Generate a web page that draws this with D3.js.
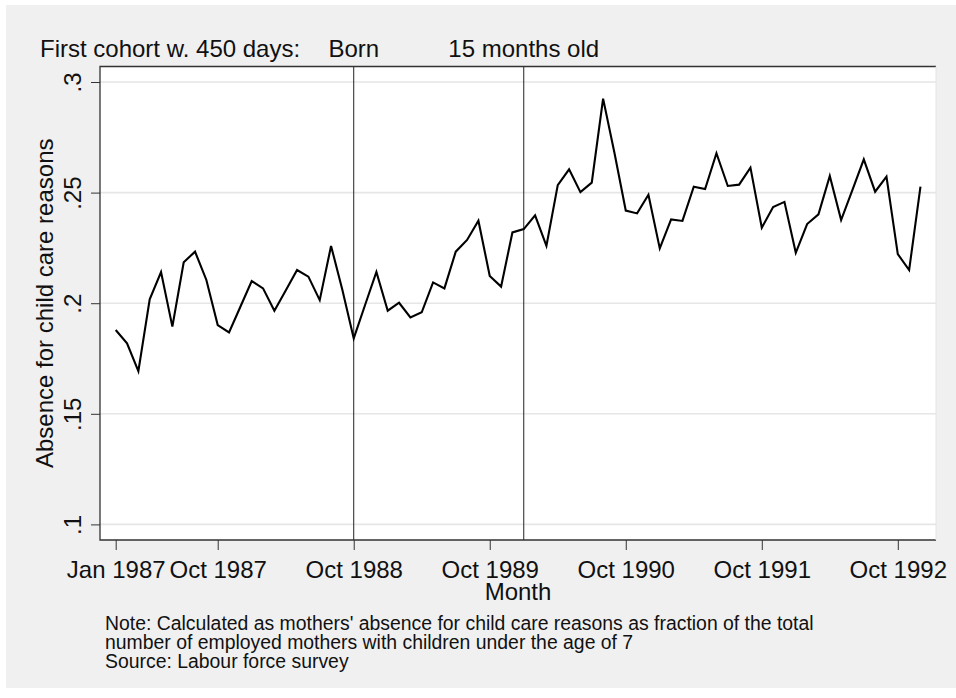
<!DOCTYPE html>
<head>
<meta charset="utf-8">
<style>
body { margin: 0; background: #fff; }
text { font-family: "Liberation Sans", Arial, Helvetica, sans-serif; fill: #111; }
</style>
</head>
<body>
<div id="chart"></div>
<script src="https://d3js.org/d3.v7.min.js"></script>
<script>
// monthly share, Jan 1987 .. Dec 1992 (month index 0 = Jan 1987)
var absence = [0.1879, 0.1819, 0.1693, 0.2018, 0.2141, 0.1894, 0.2185, 0.2233, 0.2105, 0.1901, 0.1868, 0.1984,
               0.2100, 0.2067, 0.1966, 0.2057, 0.2150, 0.2120, 0.2014, 0.2259, 0.2060, 0.1841, 0.1992, 0.2141,
               0.1966, 0.2002, 0.1936, 0.1959, 0.2094, 0.2067, 0.2233, 0.2286, 0.2373, 0.2123, 0.2075, 0.2320,
               0.2335, 0.2397, 0.2259, 0.2534, 0.2605, 0.2502, 0.2545, 0.2925, 0.2680, 0.2419, 0.2406, 0.2490,
               0.2248, 0.2379, 0.2372, 0.2527, 0.2516, 0.2678, 0.2530, 0.2536, 0.2613, 0.2341, 0.2435, 0.2458,
               0.2228, 0.2358, 0.2402, 0.2575, 0.2376, 0.2512, 0.2650, 0.2504, 0.2572, 0.2222, 0.2150, 0.2527];
var xTickMonths = [0, 9, 21, 33, 45, 57, 69];
var xTickLabels = ["Jan 1987", "Oct 1987", "Oct 1988", "Oct 1989", "Oct 1990", "Oct 1991", "Oct 1992"];
var yTicks = [0.1, 0.15, 0.2, 0.25, 0.3];
var yTickLabels = [".1", ".15", ".2", ".25", ".3"];
var refMonths = [21, 36];
var refLabels = ["Born", "15 months old"];
var notes = ["Note: Calculated as mothers' absence for child care reasons as fraction of the total",
             "number of employed mothers with children under the age of 7",
             "Source: Labour force survey"];

var W = 956, H = 698;
var margin = {top: 66.5, right: 20, bottom: 158, left: 100},
    width = W - margin.left - margin.right,
    height = H - margin.top - margin.bottom;

var svg = d3.select("#chart").append("svg")
    .attr("width", W)
    .attr("height", H);

// grey graph region
svg.append("rect")
    .attr("x", 6).attr("y", 5)
    .attr("width", W - 6).attr("height", 683)
    .attr("fill", "#f0f0f0");

var g = svg.append("g")
    .attr("transform", "translate(" + margin.left + "," + margin.top + ")");

var x = d3.scaleLinear()
    .domain([-1.385, 72.37])
    .range([0, width]);
var y = d3.scaleLinear()
    .domain([0.09295, 0.30701])
    .range([height, 0]);

g.append("rect")
    .attr("width", width).attr("height", height)
    .attr("fill", "#fff");

// gridlines
g.selectAll(".grid")
    .data(yTicks)
  .enter().append("line")
    .attr("x1", 0).attr("x2", width)
    .attr("y1", function(d) { return y(d); })
    .attr("y2", function(d) { return y(d); })
    .attr("stroke", "#e6e6e6")
    .attr("stroke-width", 1.6);

// reference lines
g.selectAll(".ref")
    .data(refMonths)
  .enter().append("line")
    .attr("x1", function(d) { return x(d); })
    .attr("x2", function(d) { return x(d); })
    .attr("y1", 0).attr("y2", height)
    .attr("stroke", "#222")
    .attr("stroke-width", 1);

// frame: left, top, bottom dark; right light
g.append("path")
    .attr("d", "M" + width + ",0H0V" + height + "H" + width)
    .attr("fill", "none")
    .attr("stroke", "#333")
    .attr("stroke-width", 1.3);
g.append("line")
    .attr("x1", width).attr("x2", width)
    .attr("y1", 0).attr("y2", height)
    .attr("stroke", "#e4e4e4");

var line = d3.line()
    .x(function(d, i) { return x(i); })
    .y(function(d) { return y(d); });

g.append("path")
    .datum(absence)
    .attr("d", line)
    .attr("fill", "none")
    .attr("stroke", "#000")
    .attr("stroke-width", 2.1)
    .attr("stroke-linejoin", "miter");

// y axis
var yAxis = g.append("g")
    .call(d3.axisLeft(y)
        .tickValues(yTicks)
        .tickFormat(function(d, i) { return yTickLabels[i]; })
        .tickSize(9)
        .tickSizeOuter(0));
yAxis.select(".domain").remove();
yAxis.selectAll("line").attr("stroke", "#333");
yAxis.selectAll("text")
    .attr("x", null).attr("dy", null)
    .attr("text-anchor", "middle")
    .attr("transform", "translate(-19,0) rotate(-90)")
    .style("font-size", "24px")
    .style("font-family", null);

// x axis
var xAxis = g.append("g")
    .attr("transform", "translate(0," + height + ")")
    .call(d3.axisBottom(x)
        .tickValues(xTickMonths)
        .tickFormat(function(d, i) { return xTickLabels[i]; })
        .tickSize(10)
        .tickPadding(11)
        .tickSizeOuter(0));
xAxis.select(".domain").remove();
xAxis.selectAll("line").attr("stroke", "#333");
xAxis.selectAll("text")
    .style("font-size", "24px")
    .style("font-family", null);

// axis titles
svg.append("text")
    .attr("text-anchor", "middle")
    .attr("transform", "translate(" + (margin.left + width / 2) + ",600)")
    .style("font-size", "24px")
    .text("Month");
svg.append("text")
    .attr("text-anchor", "middle")
    .attr("transform", "translate(53," + (margin.top + height / 2) + ")rotate(-90)")
    .style("font-size", "24px")
    .text("Absence for child care reasons");

// header with reference line labels
svg.append("text")
    .attr("x", 40).attr("y", 56.7)
    .style("font-size", "24px")
    .text("First cohort w. 450 days:");
svg.selectAll(".reflabel")
    .data(refMonths)
  .enter().append("text")
    .attr("x", function(d) { return margin.left + x(d); })
    .attr("y", 56.7)
    .attr("text-anchor", "middle")
    .style("font-size", "24px")
    .text(function(d, i) { return refLabels[i]; });

// note
svg.selectAll(".note")
    .data(notes)
  .enter().append("text")
    .attr("x", 105)
    .attr("y", function(d, i) { return 630 + i * 19; })
    .style("font-size", "19.4px")
    .text(function(d) { return d; });
</script>
</body>
</html>
